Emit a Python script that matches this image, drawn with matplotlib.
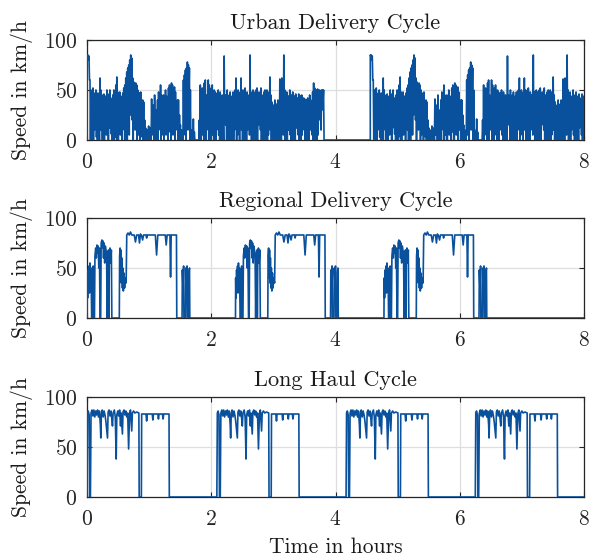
import numpy as np
import matplotlib
matplotlib.use("Agg")
import matplotlib.pyplot as plt

plt.rcParams['font.family'] = ['cmr10']
plt.rcParams['axes.formatter.use_mathtext'] = True
plt.rcParams['mathtext.fontset'] = 'cm'

# ---------------- data ----------------
titles = ["Urban Delivery Cycle", "Regional Delivery Cycle", "Long Haul Cycle"]
x_ticks = [0, 2, 4, 6, 8]
y_ticks = [0, 50, 100]

# Urban delivery cycle: per sample step, the high and the low speed (km/h)
urban_step = 0.016
urban_high = [
    85, 85, 84, 60,
    50, 40, 52, 35, 47, 50, 30,
    47, 38, 62, 50, 28, 45, 46, 35, 44, 50,
    46, 30, 50, 42, 36, 45, 50, 25, 55, 63,
    48, 32, 48, 44, 38, 47, 52, 55,
    62, 68, 72, 75, 80, 85,
    82, 62, 58, 48, 57, 55,
    50, 40, 47, 48, 30, 40,
    38, 20, 12, 8, 10, 14, 10, 12,
    41, 30, 35, 45, 25, 30, 40, 48, 35, 55, 45, 28,
    45, 36, 50, 44, 30, 52, 55, 40, 57, 55, 35, 53, 48, 30, 40,
    40, 25, 15, 10, 8,
    60, 65, 70, 72, 78, 75, 72, 50,
    10, 0, 21, 8, 0, 0, 0, 0, 20,
    55, 40, 52, 35, 57, 60, 45, 30, 60, 55, 38, 52,
    55, 35, 50, 48, 32, 47, 50, 28, 48, 40, 45, 30, 84, 45, 38,
    50, 30, 45, 48, 35, 44, 48, 25, 50, 62, 40, 50, 35, 48, 62,
    50, 32, 50, 52, 38, 48, 45, 30, 85, 48, 35, 50, 48, 28, 50,
    52, 40, 48, 30, 52, 45, 35, 48, 50, 30, 50, 48, 36, 63, 45,
    38, 25, 35, 40, 30, 36, 40, 25, 61, 50, 62, 35, 85, 50, 45,
    48, 30, 44, 50, 35, 45, 48, 28, 44, 46, 32, 42, 46, 35, 44,
    45, 30, 42, 41, 35, 40, 42, 25, 45, 40, 30, 48, 57, 52, 35,
    50, 51, 38, 50, 40, 50, 50, 50,
]
urban_low = [
    84, 80, 60, 0,
    0, 20, 0, 10, 25, 3, 0,
    18, 0, 10, 25, 0, 15, 0, 22, 5, 10,
    0, 12, 28, 6, 0, 20, 0, 3, 15, 0,
    0, 20, 5, 10, 0, 25, 10, 0,
    10, 0, 20, 5, 25, 40,
    20, 0, 30, 10, 18, 0,
    5, 20, 0, 15, 3, 0,
    0, 0, 0, 0, 0, 0, 0, 0,
    5, 20, 0, 15, 0, 18, 0, 25, 10, 0, 5, 15,
    0, 20, 5, 22, 0, 8, 25, 0, 30, 5, 18, 0, 10, 22, 0,
    0, 10, 0, 0, 0,
    5, 20, 0, 30, 10, 40, 0, 0,
    0, 0, 0, 0, 0, 0, 0, 0, 0,
    0, 20, 5, 0, 25, 0, 10, 18, 0, 15, 0, 22,
    5, 0, 25, 0, 10, 20, 5, 0, 28, 0, 20, 0, 20, 15, 0,
    0, 18, 0, 25, 0, 15, 0, 10, 22, 0, 5, 25, 0, 20, 10,
    0, 25, 0, 20, 0, 10, 22, 5, 10, 0, 25, 0, 15, 0, 10,
    0, 15, 25, 10, 0, 22, 0, 15, 0, 20, 0, 5, 25, 10, 0,
    10, 0, 20, 0, 15, 0, 25, 0, 10, 0, 15, 5, 20, 0, 22,
    0, 10, 25, 5, 0, 15, 0, 20, 0, 12, 25, 5, 0, 18, 0,
    5, 20, 10, 0, 25, 0, 15, 0, 10, 22, 5, 0, 10, 0, 20,
    0, 5, 25, 20, 10, 30, 40, 0,
]
urban_starts = [0.0, 4.56]

# Regional delivery cycle: (time in hours within cycle, speed km/h)
regional_time = [
    0.000, 0.003, 0.010, 0.018, 0.025, 0.033, 0.040, 0.048, 0.056, 0.065,
    0.075, 0.085, 0.092, 0.100, 0.108, 0.120, 0.128, 0.140, 0.150, 0.160,
    0.170, 0.180, 0.190, 0.200, 0.210, 0.220, 0.228, 0.240, 0.250, 0.258,
    0.266, 0.275, 0.285, 0.295, 0.305, 0.315, 0.325, 0.335, 0.345, 0.352,
    0.360, 0.370, 0.380, 0.392, 0.400, 0.520, 0.525, 0.533, 0.540, 0.548,
    0.555, 0.562, 0.570, 0.578, 0.585, 0.595, 0.605, 0.615, 0.630, 0.640,
    0.660, 0.680, 0.700, 0.720, 0.760, 0.780, 0.800, 0.830, 0.845, 0.860,
    0.880, 0.895, 0.910, 0.950, 0.960, 0.970, 1.100, 1.120, 1.140, 1.260,
    1.275, 1.290, 1.335, 1.345, 1.355, 1.440, 1.445, 1.530, 1.535, 1.545,
    1.555, 1.560, 1.585, 1.590, 1.600, 1.610, 1.615, 1.635, 1.640, 1.650,
    1.655,
]
regional_speed = [
    0, 40, 20, 48, 30, 52, 25, 55, 35, 50,
    0, 0, 45, 52, 0, 0, 62, 70, 60, 73,
    65, 72, 50, 70, 0, 0, 75, 78, 70, 77,
    60, 75, 55, 72, 68, 65, 0, 60, 68, 0,
    65, 70, 55, 68, 0, 0, 62, 70, 40, 68,
    35, 60, 30, 50, 27, 45, 30, 40, 35, 83,
    85, 83, 86, 83, 83, 76, 83, 83, 75, 84,
    82, 78, 83, 83, 80, 83, 83, 63, 83, 83,
    73, 83, 83, 41, 83, 83, 0, 0, 48, 30,
    52, 0, 0, 50, 35, 52, 0, 0, 45, 50,
    0,
]
regional_starts = [0.0, 2.39, 4.78]

# Long haul cycle: (time in hours within cycle, speed km/h)
longhaul_time = [
    0.000, 0.008, 0.020, 0.035, 0.042, 0.055, 0.065, 0.080, 0.095, 0.110,
    0.125, 0.140, 0.155, 0.170, 0.185, 0.200, 0.215, 0.222, 0.232, 0.245,
    0.260, 0.275, 0.290, 0.305, 0.330, 0.340, 0.355, 0.370, 0.385, 0.400,
    0.410, 0.420, 0.440, 0.455, 0.470, 0.480, 0.495, 0.510, 0.525, 0.540,
    0.550, 0.570, 0.580, 0.595, 0.610, 0.625, 0.640, 0.655, 0.670, 0.685,
    0.700, 0.720, 0.730, 0.750, 0.770, 0.800, 0.835, 0.840, 0.875, 0.880,
    0.950, 0.960, 0.970, 1.050, 1.060, 1.070, 1.140, 1.150, 1.160, 1.215,
    1.225, 1.235, 1.320, 1.325,
]
longhaul_speed = [
    0, 84, 86, 82, 0, 0, 84, 87, 81, 87,
    80, 86, 82, 87, 80, 86, 72, 59, 84, 87,
    80, 86, 82, 75, 59, 85, 87, 81, 86, 78,
    71, 84, 87, 80, 38, 82, 86, 81, 87, 71,
    84, 63, 85, 87, 82, 86, 80, 84, 48, 83,
    87, 66, 84, 86, 84, 85, 84, 0, 0, 83,
    83, 76, 83, 83, 77, 83, 83, 78, 83, 83,
    78, 83, 83, 0,
]
longhaul_starts = [0.0, 2.09, 4.17, 6.25]

end_time = 8.0

# ------------- build series -------------
def build(times, speeds, starts):
    t_all, v_all = [], []
    for s in starts:
        t_all.extend(np.asarray(times) + s)
        v_all.extend(speeds)
    t_all.append(end_time)
    v_all.append(0)
    return np.array(t_all), np.array(v_all)

# urban: each step gives a high sample then a low sample half a step later
n_u = len(urban_high)
urban_time = np.empty(2 * n_u + 2)
urban_vals = np.empty(2 * n_u + 2)
urban_time[0] = 0.0
urban_vals[0] = 0
urban_time[1:-1:2] = np.arange(n_u) * urban_step
urban_time[2:-1:2] = np.arange(n_u) * urban_step + urban_step / 2
urban_vals[1:-1:2] = urban_high
urban_vals[2:-1:2] = urban_low
urban_time[-1] = n_u * urban_step
urban_vals[-1] = 0

series = [
    build(urban_time, urban_vals, urban_starts),
    build(regional_time, regional_speed, regional_starts),
    build(longhaul_time, longhaul_speed, longhaul_starts),
]

# ---------------- plot ----------------
W, H = 595, 556
fig = plt.figure(figsize=(W / 100, H / 100), dpi=100)
line_color = '#0a519d'
fs = 15.5

panel_tops = [40, 218, 397]
panel_h = 100
left_px, right_px = 87, 584

for i, ((t, v), title) in enumerate(zip(series, titles)):
    top = panel_tops[i]
    ax = fig.add_axes([left_px / W, 1 - (top + panel_h) / H,
                       (right_px - left_px) / W, panel_h / H])
    ax.plot(t, v, color=line_color, lw=1.2, zorder=3)
    ax.set_xlim(0, 8)
    ax.set_ylim(0, 100)
    ax.set_xticks(x_ticks)
    ax.set_yticks(y_ticks)
    ax.grid(True, color='#dedede', lw=0.9)
    ax.set_axisbelow(True)
    ax.tick_params(direction='in', top=True, right=True, length=3.5,
                   width=0.8, labelsize=fs, colors='#262626')
    ax.tick_params(axis='x', pad=9)
    ax.tick_params(axis='y', pad=7)
    for sp in ax.spines.values():
        sp.set_color('#262626')
        sp.set_linewidth(0.9)
        sp.set_zorder(2.5)
    ax.set_title(title, fontsize=fs + 0.5, pad=8, color='#1a1a1a')
    ax.set_ylabel("Speed in km/h", fontsize=fs, color='#1a1a1a')
    ax.yaxis.set_label_coords(-0.109, 0.5)
    if i == 2:
        ax.set_xlabel("Time in hours", fontsize=fs, color='#1a1a1a')
        ax.xaxis.set_label_coords(0.5, -0.40)

fig.savefig("out.png", dpi=100)
